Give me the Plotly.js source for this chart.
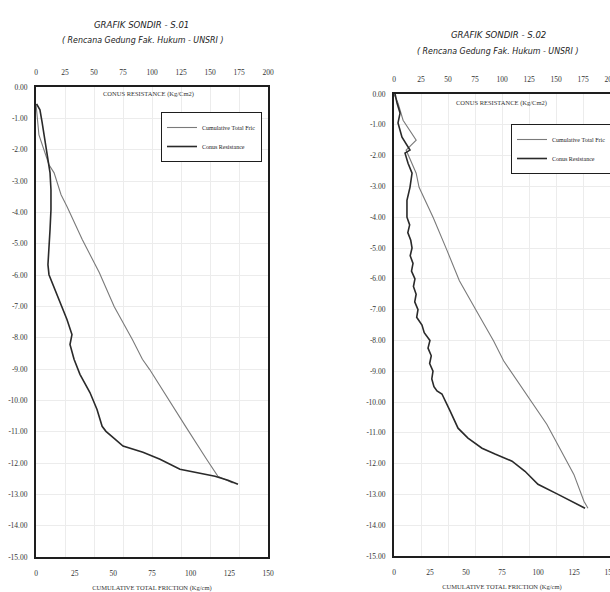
<!DOCTYPE html>
<html>
<head>
<meta charset="utf-8">
<script src="https://cdn.plot.ly/plotly-3.0.1.min.js"></script>
<style>
html,body{margin:0;padding:0;overflow:hidden;background:#fff;}
#chart{width:630px;height:592px;}
</style>
</head>
<body>
<div id="chart"></div>
<script>
// ---------- data ----------
const depthTicks = [0,-1,-2,-3,-4,-5,-6,-7,-8,-9,-10,-11,-12,-13,-14,-15];
const depthLabels = ["0.00","-1.00","-2.00","-3.00","-4.00","-5.00","-6.00","-7.00","-8.00","-9.00","-10.00","-11.00","-12.00","-13.00","-14.00","-15.00"];
const coneTicks = [0,25,50,75,100,125,150,175,200];
const fricTicks = [0,25,50,75,100,125,150];

// S.01 - cone resistance (kg/cm2)
const depthConeS01 = [-0.54,-0.73,-1.11,-1.53,-2.01,-2.39,-2.74,-3.28,-3.92,-4.55,-5.19,-5.67,-5.99,-6.46,-7.01,-7.42,-7.90,-8.22,-8.69,-9.17,-9.75,-10.29,-10.83,-10.99,-11.24,-11.46,-11.66,-11.88,-12.20,-12.32,-12.42,-12.55,-12.68];
const coneS01 = [0.5,3.4,5.2,6.9,8.6,10.3,12.1,12.9,12.9,12.1,11.2,10.3,11.2,16.4,22.4,26.7,31.0,29.3,32.8,37.9,46.5,52.6,57.0,60.3,68.1,75.0,92.2,106.9,124.1,141.4,154.3,165.5,174.1];
// S.01 - cumulative total friction (kg/cm)
const depthFricS01 = [-0.54,-0.89,-1.53,-2.01,-2.48,-2.74,-3.44,-3.82,-4.87,-5.92,-7.01,-8.06,-8.69,-9.01,-9.75,-10.83,-11.88,-12.42,-12.64];
const fricS01 = [0,0.6,1.9,5.2,8.4,11.7,16.2,20.1,29.9,40.9,50.6,62.3,68.8,73.4,83.1,96.7,110.3,117.5,127.2];

// S.02 - cone resistance (kg/cm2)
const depthConeS02 = [0,-0.29,-0.62,-0.94,-1.40,-1.56,-1.82,-1.92,-2.25,-2.57,-3.03,-3.45,-4.0,-4.25,-4.5,-4.75,-5.0,-5.25,-5.5,-5.75,-6.0,-6.25,-6.5,-6.75,-7.0,-7.25,-7.5,-7.75,-8.0,-8.25,-8.5,-8.75,-9.0,-9.25,-9.5,-9.64,-9.74,-10.29,-10.85,-11.17,-11.50,-11.69,-11.92,-12.25,-12.67,-13.00,-13.22,-13.45];
const coneS02 = [1,2.8,5.6,3.7,7.4,10.2,14.8,10.2,13.0,16.7,14.8,12.0,12.0,14.5,12.8,15.5,16.7,15.0,17.6,16.2,19.4,18.0,20.5,19.2,22.2,21.0,25.9,28.0,33.3,31.5,34.5,33.0,36.1,35.0,37.0,39.8,44.4,51.9,59.3,68.5,81.5,93.5,109.3,121.3,133.3,151.9,164.8,176.9];
// S.02 - cumulative total friction (kg/cm)
const depthFricS02 = [0,-0.3,-0.85,-1.5,-1.82,-2.57,-3.03,-4.01,-5.02,-6.06,-7.04,-8.01,-8.66,-10.07,-10.72,-11.50,-12.35,-13.22,-13.45];
const fricS02 = [0,2.8,6.3,15.4,8.4,15.4,17.4,27.2,36.3,45.4,57.2,69.1,76.1,97.0,106.1,115.1,124.9,131.9,134.7];

const seriesNames = ["Cumulative Total Fric", "Conus Resistance"];

// ---------- layout helpers ----------
const W = 630, H = 592;
const px = x => x / W;
const py = y => 1 - y / H;

const serif = "Liberation Serif, Times New Roman, serif";
const sans = "Liberation Sans Narrow, DejaVu Sans Condensed, Liberation Sans, Arial, sans-serif";
const frameColor = "#1e1e1e";
const gridColor = "#ececec";

function yAxis(top, bottom, anchor) {
  return {
    domain: [py(bottom), py(top)], anchor: anchor, range: [-15, 0],
    tickvals: depthTicks, ticktext: depthLabels,
    showline: true, linewidth: 2, linecolor: frameColor, mirror: true,
    showgrid: true, gridcolor: gridColor, gridwidth: 1,
    zeroline: false, ticks: "", ticklabelstandoff: 5,
    tickfont: {family: serif, size: 7.5, color: "#333"}
  };
}
function bottomAxis(left, right, anchor) {
  return {
    domain: [px(left), px(right)], anchor: anchor, range: [0, 150],
    tickvals: fricTicks, showline: true, linewidth: 2, linecolor: frameColor, mirror: true,
    showgrid: false, zeroline: false, ticks: "", ticklabelstandoff: 8,
    tickfont: {family: serif, size: 7.5, color: "#333"},
    title: {text: "CUMULATIVE TOTAL FRICTION (Kg/cm)", font: {family: serif, size: 6.5, color: "#333"}, standoff: 8}
  };
}
function topAxis(over, anchor) {
  return {
    overlaying: over, anchor: anchor, side: "top", range: [0, 200],
    tickvals: coneTicks, showline: false, showgrid: true, gridcolor: gridColor,
    zeroline: false, ticks: "", ticklabelstandoff: 10,
    tickfont: {family: serif, size: 7.5, color: "#333"}
  };
}

const fricStyle = {color: "#7a7a7a", width: 1.1};
const coneStyle = {color: "#2a2a2a", width: 1.6};

const traces = [
  {x: fricS01, y: depthFricS01, xaxis: "x", yaxis: "y", mode: "lines", name: seriesNames[0], line: fricStyle, legend: "legend"},
  {x: coneS01, y: depthConeS01, xaxis: "x2", yaxis: "y", mode: "lines", name: seriesNames[1], line: coneStyle, legend: "legend"},
  {x: fricS02, y: depthFricS02, xaxis: "x3", yaxis: "y2", mode: "lines", name: seriesNames[0], line: fricStyle, legend: "legend2"},
  {x: coneS02, y: depthConeS02, xaxis: "x4", yaxis: "y2", mode: "lines", name: seriesNames[1], line: coneStyle, legend: "legend2"}
];

const legendBase = {
  bgcolor: "#fff", bordercolor: frameColor, borderwidth: 1,
  font: {family: serif, size: 6, color: "#222"},
  xanchor: "right", yanchor: "top", tracegroupgap: 0, itemwidth: 30
};

function note(text, x, y, font) {
  return {text: text, xref: "paper", yref: "paper", x: px(x), y: py(y),
          xanchor: "center", yanchor: "middle", showarrow: false, font: font};
}
const titleFont = {family: sans, size: 9.5, color: "#222", style: "italic"};
const subFont = {family: sans, size: 8.8, color: "#222", style: "italic"};
const innerFont = {family: serif, size: 6.5, color: "#333"};

const layout = {
  width: W, height: H,
  margin: {l: 0, r: 0, t: 0, b: 0},
  paper_bgcolor: "#fff", plot_bgcolor: "#fff",
  showlegend: true,
  yaxis: yAxis(87, 557, "x"),
  yaxis2: yAxis(94, 556, "x3"),
  xaxis: bottomAxis(36, 268, "y"),
  xaxis2: topAxis("x", "y"),
  xaxis3: bottomAxis(394, 610, "y2"),
  xaxis4: topAxis("x3", "y2"),
  legend: Object.assign({}, legendBase, {x: px(262), y: py(112)}),
  legend2: Object.assign({}, legendBase, {x: px(612), y: py(124)}),
  annotations: [
    note("GRAFIK SONDIR - S.01", 141, 24, titleFont),
    note("( Rencana Gedung Fak. Hukum - UNSRI )", 143, 40, subFont),
    note("GRAFIK SONDIR - S.02", 498, 34, titleFont),
    note("( Rencana Gedung Fak. Hukum - UNSRI )", 498, 51, subFont),
    note("CONUS RESISTANCE (Kg/Cm2)", 148, 94, innerFont),
    note("CONUS RESISTANCE (Kg/Cm2)", 502, 103, innerFont)
  ]
};

Plotly.newPlot("chart", traces, layout, {displayModeBar: false, staticPlot: true});
</script>
</body>
</html>
